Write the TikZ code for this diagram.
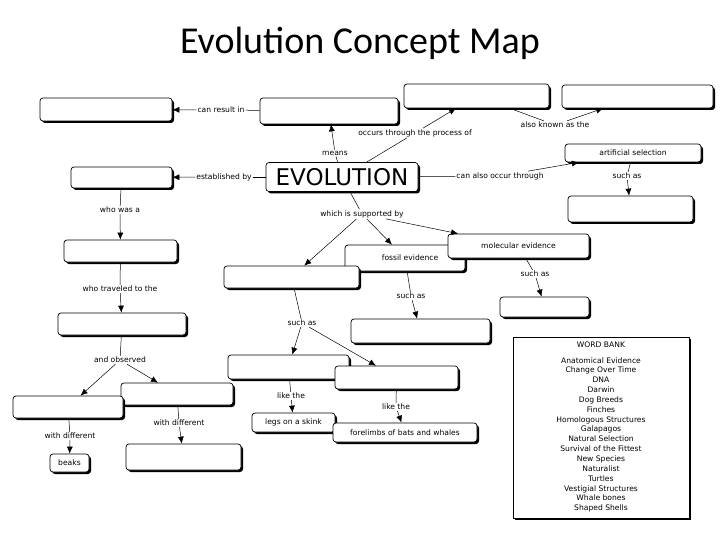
\documentclass[tikz,border=0pt]{standalone}
\usepackage{fontspec}
\setmainfont{DejaVu Sans}
\newfontfamily\titlefont{Carlito}
\usetikzlibrary{shadows,arrows.meta}
\tikzset{
 cbox/.style={draw=black,line width=0.7pt,rounded corners=3pt,fill=white,inner sep=0pt,
   drop shadow={shadow xshift=2pt,shadow yshift=-2pt,opacity=1,fill=black},
   font=\fontsize{7.6}{9}\selectfont},
 lab/.style={fill=white,inner sep=1pt,font=\fontsize{7.6}{9}\selectfont},
 ln/.style={draw=black,line width=0.5pt},
 ar/.style={draw=black,line width=0.5pt,-{Latex[length=7pt,width=6pt]}},
}
\newcommand{\bx}[6]{\node[cbox,minimum width={#4-#2},minimum height={#5-#3}] (#1) at ({(#2+#4)/2},{(#3+#5)/2}) {#6};}
\begin{document}
\begin{tikzpicture}[x=1pt,y=-1pt]
\useasboundingbox (0,0) rectangle (720,540);
\node[font=\titlefont\fontsize{38}{42}\selectfont] (title) at (360,43) {Evolution Concept Map};
\bx{b1}{40}{98}{172}{121}{}
\bx{b2}{260}{98}{398}{124}{}
\bx{b3}{404}{84}{549}{108}{}
\bx{b4}{562}{85}{713}{108}{}
\bx{art}{565}{144}{701}{162}{artificial selection}
\bx{b5}{71}{167}{172}{188}{}
\node[cbox,minimum width=152,minimum height=29,font=\fontsize{23}{25}\selectfont] (evo) at (342,177) {EVOLUTION};
\bx{b6}{568}{196}{693}{222}{}
\bx{b7}{64}{240}{177}{262}{}
\bx{fos}{345}{245}{465}{271}{\hspace*{10pt}fossil evidence}
\bx{mol}{448}{234}{589}{258}{molecular evidence}
\bx{b8}{224}{266}{359}{288}{}
\bx{b9}{500}{297}{589}{317}{}
\bx{b10}{58}{313}{186}{335}{}
\bx{b11}{351}{319}{490}{343}{}
\bx{b12}{228}{355}{349}{379}{}
\bx{b13}{335}{366}{458}{389}{}
\bx{b14}{121}{383}{233}{405}{}
\bx{b15}{13}{396}{123}{418}{}
\bx{legs}{252}{413}{335}{432}{legs on a skink}
\bx{fore}{333}{423}{477}{442}{forelimbs of bats and whales}
\bx{beaks}{50}{454}{89}{472}{beaks}
\bx{b16}{126}{444}{241}{470}{}
\node[draw=black,line width=0.7pt,fill=white,minimum width=176,minimum height=181,inner sep=0pt,
  drop shadow={shadow xshift=2pt,shadow yshift=-2pt,opacity=1,fill=black}] (wb) at (601,427.5) {};
\node[anchor=north,align=center,font=\fontsize{7.6}{9.85}\selectfont] (wbt) at (601,338) {WORD BANK\\[6pt]
Anatomical Evidence\\Change Over Time\\DNA\\Darwin\\Dog Breeds\\Finches\\Homologous Structures\\Galapagos\\Natural Selection\\Survival of the Fittest\\New Species\\Naturalist\\Turtles\\Vestigial Structures\\Whale bones\\Shaped Shells};
% labels
\node[lab] (L1) at (221,110) {can result in};
\node[lab] (L2) at (335,153) {means};
\node[lab] (L3) at (415,133) {occurs through the process of};
\node[lab] (L4) at (555,125) {also known as the};
\node[lab] (L5) at (224,177) {established by};
\node[lab] (L6) at (500,176) {can also occur through};
\node[lab] (L7) at (627,176) {such as};
\node[lab] (L8) at (362,214) {which is supported by};
\node[lab] (L9) at (120,210) {who was a};
\node[lab] (L10) at (120,289) {who traveled to the};
\node[lab] (L11) at (535,274) {such as};
\node[lab] (L12) at (411,296) {such as};
\node[lab] (L13) at (302,323) {such as};
\node[lab] (L14) at (120,360) {and observed};
\node[lab] (L15) at (291,396) {like the};
\node[lab] (L16) at (396,407) {like the};
\node[lab] (L17) at (70,436) {with different};
\node[lab] (L18) at (179,423) {with different};
% connectors
\draw[ln] (b2) -- (L1); \draw[ar] (L1) -- (b1);
\draw[ln] (evo) -- (L2); \draw[ar] (L2) -- (b2);
\draw[ln] (evo) -- (L3); \draw[ar] (L3) -- (b3);
\draw[ln] (b3) -- (L4); \draw[ar] (L4) -- (b4);
\draw[ln] (evo) -- (L5); \draw[ar] (L5) -- (b5);
\draw[ln] (evo) -- (L6); \draw[ar] (L6) -- (art);
\draw[ln] (art) -- (L7); \draw[ar] (L7) -- (b6);
\draw[ln] (evo) -- (L8); \draw[ar] (L8) -- (b8); \draw[ar] (L8) -- (fos); \draw[ar] (L8) -- (mol);
\draw[ln] (b5) -- (L9); \draw[ar] (L9) -- (b7);
\draw[ln] (b7) -- (L10); \draw[ar] (L10) -- (b10);
\draw[ln] (mol) -- (L11); \draw[ar] (L11) -- (b9);
\draw[ln] (fos) -- (L12); \draw[ar] (L12) -- (b11);
\draw[ln] (b8) -- (L13); \draw[ar] (L13) -- (b12); \draw[ar] (L13) -- (b13);
\draw[ln] (b10) -- (L14); \draw[ar] (L14) -- (b15); \draw[ar] (L14) -- (b14);
\draw[ln] (b12) -- (L15); \draw[ar] (L15) -- (legs);
\draw[ln] (b13) -- (L16); \draw[ar] (L16) -- (fore);
\draw[ln] (b15) -- (L17); \draw[ar] (L17) -- (beaks);
\draw[ln] (b14) -- (L18); \draw[ar] (L18) -- (b16);
\end{tikzpicture}
\end{document}
